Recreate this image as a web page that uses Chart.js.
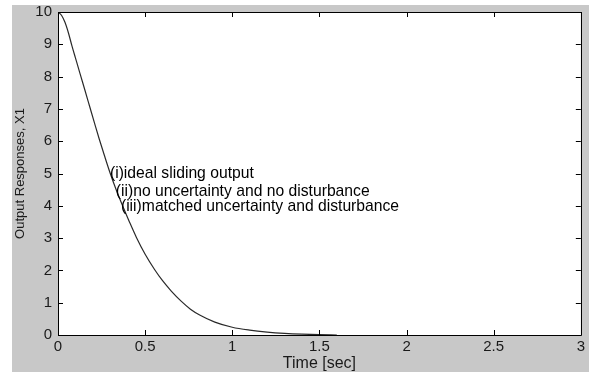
<!DOCTYPE html>
<html>
<head>
<meta charset="utf-8">
<script src="https://cdn.jsdelivr.net/npm/chart.js@4.4.1/dist/chart.umd.min.js"></script>
<style>
  html, body { margin: 0; padding: 0; background: #fff; }
  #panel {
    position: absolute; left: 12px; top: 5px;
    width: 577px; height: 367px;
    background: #c8c8c8;
  }
  #respChart { display: block; }
</style>
</head>
<body>
<div id="panel"><canvas id="respChart" width="577" height="367"></canvas></div>
<script>
// output response x1 vs time
var timeSec = [0, 0.02, 0.04, 0.06, 0.08, 0.1, 0.126, 0.155, 0.183, 0.21, 0.237, 0.265,
               0.3, 0.335, 0.373, 0.41, 0.45, 0.5, 0.555, 0.6, 0.65, 0.708, 0.76, 0.813,
               0.9, 1.0, 1.1, 1.2, 1.3, 1.4, 1.5, 1.6];
var x1Resp = [10, 9.9, 9.68, 9.35, 8.95, 8.58, 8.1, 7.57, 7.05, 6.55, 6.06, 5.58,
              5.0, 4.48, 3.97, 3.5, 3.02, 2.5, 2.02, 1.68, 1.36, 1.04, 0.8, 0.62,
              0.4, 0.24, 0.15, 0.09, 0.05, 0.025, 0.01, 0.0];

// text labels placed next to the curve (time, value)
var noteText = ["(i)ideal sliding output",
                "(ii)no uncertainty and no disturbance",
                "(iii)matched uncertainty and disturbance"];
var noteTime = [0.298, 0.332, 0.361];
var noteVal = [4.98, 4.43, 3.96];

var xTicks = [0, 0.5, 1, 1.5, 2, 2.5, 3];
var yTicks = [0, 1, 2, 3, 4, 5, 6, 7, 8, 9, 10];

var FONT = "'Liberation Sans', Arial, sans-serif";

var points = timeSec.map(function(t, i) { return {x: t, y: x1Resp[i]}; });

// white axes box with a black frame and inward ticks on every side, matlab style
var boxPlugin = {
    id: 'box',
    beforeDraw: function(chart) {
        var a = chart.chartArea, ctx = chart.ctx;
        ctx.save();
        ctx.fillStyle = '#fff';
        ctx.fillRect(a.left, a.top, a.right - a.left, a.bottom - a.top);
        ctx.restore();
    },
    afterDraw: function(chart) {
        var a = chart.chartArea, ctx = chart.ctx;
        var xs = chart.scales.x, ys = chart.scales.y;
        var len = 5;
        ctx.save();
        ctx.strokeStyle = '#000';
        ctx.lineWidth = 1;
        ctx.beginPath();
        ctx.rect(Math.round(a.left) + 0.5, Math.round(a.top) + 0.5,
                 Math.round(a.right - a.left), Math.round(a.bottom - a.top));
        xTicks.forEach(function(v) {
            var px = Math.round(xs.getPixelForValue(v)) + 0.5;
            ctx.moveTo(px, a.bottom); ctx.lineTo(px, a.bottom - len);
            ctx.moveTo(px, a.top); ctx.lineTo(px, a.top + len);
        });
        yTicks.forEach(function(v) {
            var py = Math.round(ys.getPixelForValue(v)) + 0.5;
            ctx.moveTo(a.left, py); ctx.lineTo(a.left + len, py);
            ctx.moveTo(a.right, py); ctx.lineTo(a.right - len, py);
        });
        ctx.stroke();

        // curve labels
        ctx.fillStyle = '#000';
        ctx.font = '15.7px ' + FONT;
        ctx.textAlign = 'left';
        ctx.textBaseline = 'middle';
        noteText.forEach(function(s, i) {
            ctx.fillText(s, xs.getPixelForValue(noteTime[i]), ys.getPixelForValue(noteVal[i]));
        });
        ctx.restore();
    }
};

var chart = new Chart(document.getElementById('respChart'), {
    type: 'line',
    data: {
        datasets: [{
            label: 'X1',
            data: points,
            borderColor: '#2a2a2a',
            borderWidth: 1.2,
            pointRadius: 0,
            fill: false,
            cubicInterpolationMode: 'monotone'
        }]
    },
    options: {
        responsive: false,
        animation: false,
        events: [],
        layout: { padding: { top: 7, right: 7, left: 0, bottom: 0 } },
        plugins: { legend: { display: false }, tooltip: { enabled: false } },
        scales: {
            x: {
                type: 'linear',
                min: 0, max: 3,
                afterBuildTicks: function(s) { s.ticks = xTicks.map(function(v) { return {value: v}; }); },
                afterFit: function(s) { s.height = 37; },
                grid: { display: false, drawTicks: false },
                border: { display: false },
                ticks: {
                    padding: 4,
                    color: '#1a1a1a',
                    font: { family: FONT, size: 15, lineHeight: 1 },
                    maxRotation: 0,
                    callback: function(v) { return String(+v.toFixed(2)); }
                },
                title: {
                    display: true,
                    text: 'Time [sec]',
                    color: '#1a1a1a',
                    font: { family: FONT, size: 16, lineHeight: 1 },
                    padding: { top: 0, bottom: 0 }
                }
            },
            y: {
                min: 0, max: 10,
                afterBuildTicks: function(s) { s.ticks = yTicks.map(function(v) { return {value: v}; }); },
                afterFit: function(s) { s.width = 46; },
                grid: { display: false, drawTicks: false },
                border: { display: false },
                ticks: {
                    padding: 6,
                    color: '#1a1a1a',
                    // small line height keeps the top label from pushing the plot box down
                    font: { family: FONT, size: 15, lineHeight: 0.1 },
                    callback: function(v) { return String(v); }
                },
                title: {
                    display: true,
                    text: 'Output Responses, X1',
                    color: '#1a1a1a',
                    font: { family: FONT, size: 13, lineHeight: 1 },
                    padding: { top: 1.5, bottom: 0 }
                }
            }
        }
    },
    plugins: [boxPlugin]
});
</script>
</body>
</html>
